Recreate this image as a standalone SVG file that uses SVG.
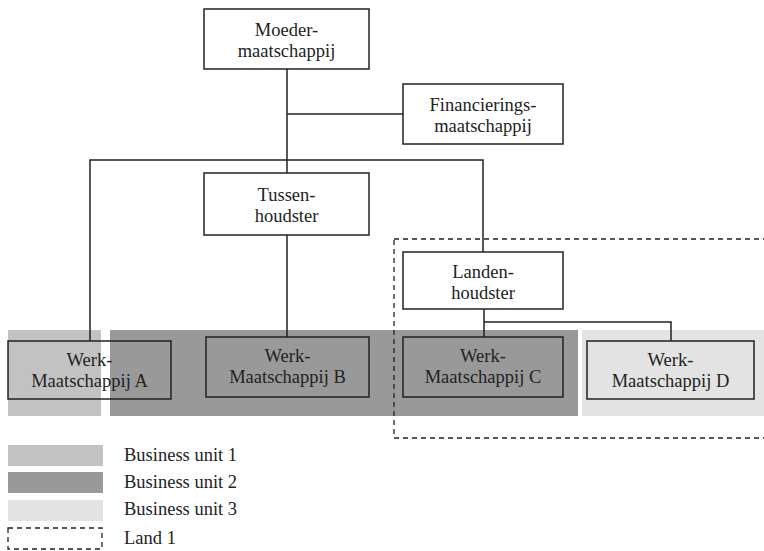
<svg xmlns="http://www.w3.org/2000/svg" width="764" height="551" viewBox="0 0 764 551">
<style>
.box{fill:#fff;stroke:#222;stroke-width:1.5}
.obox{fill:none;stroke:#222;stroke-width:1.5}
.t{font-family:"Liberation Serif",serif;font-size:18.5px;fill:#222;text-anchor:middle}
.lt{font-family:"Liberation Serif",serif;font-size:18.5px;fill:#222}
.c{fill:none;stroke:#222;stroke-width:1.5}
.dash{fill:none;stroke:#222;stroke-width:1.3;stroke-dasharray:5,4}
.bu1{fill:#c2c2c2}.bu2{fill:#999}.bu3{fill:#e3e3e3}
</style>
<g id="regions">
<rect class="bu1" x="8" y="330" width="93" height="86"/>
<rect class="bu2" x="110" y="330" width="468" height="86"/>
<rect class="bu3" x="582" y="330" width="182" height="86"/>
<rect class="dash" x="394" y="239" width="380" height="199"/>
</g>
<g id="connectors">
<path class="c" d="M287 69V173M287 114H403M90 341V160H483V252M287 235V337M484 309V337M484 322H671V341"/>
</g>
<g id="moeder"><rect class="box" x="204" y="9" width="165" height="60"/><text class="t" x="286.5" y="36">Moeder-</text><text class="t" x="286.5" y="57">maatschappij</text></g>
<g id="financierings"><rect class="box" x="403" y="84" width="160" height="60"/><text class="t" x="483" y="111">Financierings-</text><text class="t" x="483" y="132">maatschappij</text></g>
<g id="tussen"><rect class="box" x="204" y="173" width="165" height="62"/><text class="t" x="286.5" y="201">Tussen-</text><text class="t" x="286.5" y="222">houdster</text></g>
<g id="landen"><rect class="box" x="403" y="252" width="160" height="57"/><text class="t" x="483" y="278">Landen-</text><text class="t" x="483" y="299">houdster</text></g>
<g id="werkA"><rect class="obox" x="8" y="341" width="163" height="58"/><text class="t" x="89.5" y="366">Werk-</text><text class="t" x="89.5" y="387">Maatschappij A</text></g>
<g id="werkB"><rect class="obox" x="206" y="337" width="163" height="60"/><text class="t" x="287.5" y="362">Werk-</text><text class="t" x="287.5" y="383">Maatschappij B</text></g>
<g id="werkC"><rect class="obox" x="403" y="337" width="160" height="60"/><text class="t" x="483" y="362">Werk-</text><text class="t" x="483" y="383">Maatschappij C</text></g>
<g id="werkD"><rect class="obox" x="587" y="341" width="167" height="58"/><text class="t" x="670.5" y="366">Werk-</text><text class="t" x="670.5" y="387">Maatschappij D</text></g>
<g id="legend">
<rect class="bu1" x="8" y="445" width="95" height="21"/>
<rect class="bu2" x="8" y="472" width="95" height="21"/>
<rect class="bu3" x="8" y="500" width="95" height="21"/>
<rect class="dash" x="8" y="528" width="94" height="21"/>
<text class="lt" x="124" y="461">Business unit 1</text>
<text class="lt" x="124" y="488">Business unit 2</text>
<text class="lt" x="124" y="515">Business unit 3</text>
<text class="lt" x="124" y="544">Land 1</text>
</g>
</svg>
